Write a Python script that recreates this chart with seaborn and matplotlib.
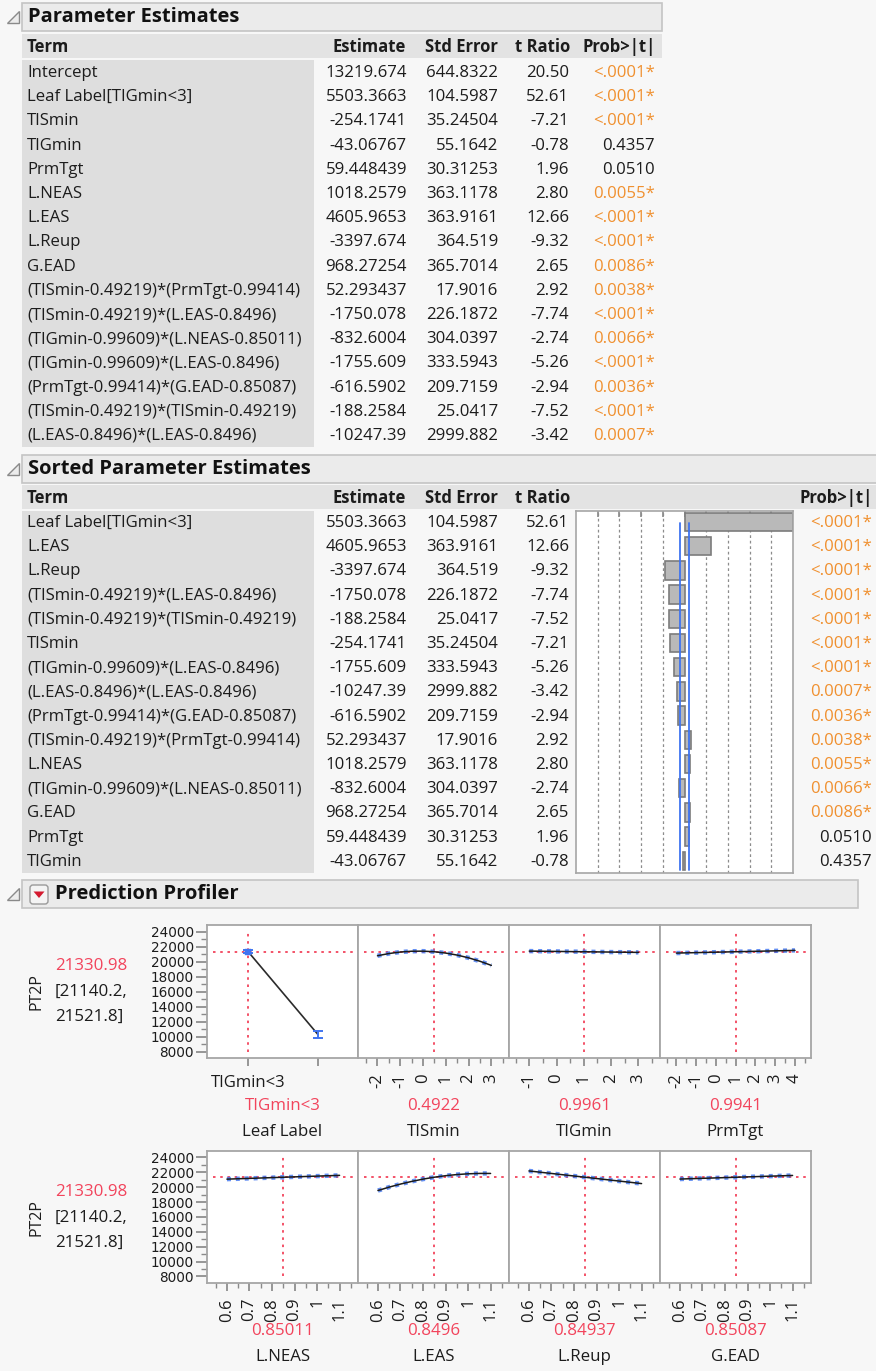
import numpy as np
import pandas as pd
import matplotlib
matplotlib.use("Agg")
import matplotlib.pyplot as plt
from matplotlib.patches import Rectangle, Polygon, FancyBboxPatch
from matplotlib.ticker import MultipleLocator, FuncFormatter
import seaborn as sns

sns.set_theme(style="white")
FONT = ["Open Sans", "DejaVu Sans"]
plt.rcParams["font.family"] = FONT
plt.rcParams["axes.unicode_minus"] = False

# ---------------- Parameter estimates ----------------
terms = [
    "Intercept", "Leaf Label[TIGmin<3]", "TISmin", "TIGmin", "PrmTgt",
    "L.NEAS", "L.EAS", "L.Reup", "G.EAD",
    "(TISmin-0.49219)*(PrmTgt-0.99414)",
    "(TISmin-0.49219)*(L.EAS-0.8496)",
    "(TIGmin-0.99609)*(L.NEAS-0.85011)",
    "(TIGmin-0.99609)*(L.EAS-0.8496)",
    "(PrmTgt-0.99414)*(G.EAD-0.85087)",
    "(TISmin-0.49219)*(TISmin-0.49219)",
    "(L.EAS-0.8496)*(L.EAS-0.8496)",
]
estimates = [13219.674, 5503.3663, -254.1741, -43.06767, 59.448439,
             1018.2579, 4605.9653, -3397.674, 968.27254, 52.293437,
             -1750.078, -832.6004, -1755.609, -616.5902, -188.2584, -10247.39]
std_errors = [644.8322, 104.5987, 35.24504, 55.1642, 30.31253,
              363.1178, 363.9161, 364.519, 365.7014, 17.9016,
              226.1872, 304.0397, 333.5943, 209.7159, 25.0417, 2999.882]
t_ratios = [20.50, 52.61, -7.21, -0.78, 1.96, 2.80, 12.66, -9.32, 2.65,
            2.92, -7.74, -2.74, -5.26, -2.94, -7.52, -3.42]
prob_labels = ["<.0001*", "<.0001*", "<.0001*", "0.4357", "0.0510",
               "0.0055*", "<.0001*", "<.0001*", "0.0086*", "0.0038*",
               "<.0001*", "0.0066*", "<.0001*", "0.0036*", "<.0001*", "0.0007*"]

# ---------------- Prediction profiler ----------------
response_name = "PT2P"
pred_value = 21330.98
pred_lo, pred_hi = 21140.2, 21521.8

leaf_ticks = ["TIGmin<3", ""]
leaf_pred = [21330.98, 10324.2]
leaf_lo = [21140.2, 9870.0]
leaf_hi = [21521.8, 10780.0]

tismin_x = [-2, -1.5, -1, -0.5, 0, 0.5, 1, 1.5, 2, 2.5, 3]
tismin_y = [20795, 21090, 21291, 21398, 21410, 21329, 21153, 20884, 20520, 20062, 19510]
tigmin_x = [-1, -0.5, 0, 0.5, 1, 1.5, 2, 2.5, 3]
tigmin_y = [21417, 21395, 21374, 21352, 21331, 21309, 21288, 21266, 21245]
prmtgt_x = [-2, -1.5, -1, -0.5, 0, 0.5, 1, 1.5, 2, 2.5, 3, 3.5, 4]
prmtgt_y = [21153, 21183, 21212, 21242, 21272, 21302, 21331, 21361, 21391, 21421, 21450, 21480, 21510]

frac_x = [0.6, 0.65, 0.7, 0.75, 0.8, 0.85, 0.9, 0.95, 1.0, 1.05, 1.1]
lneas_y = [21076.3, 21127.2, 21178.1, 21229.0, 21279.9, 21330.9, 21381.8, 21432.7, 21483.6, 21534.5, 21585.4]
leas_y = [19542.9, 20003.3, 20412.6, 20770.5, 21077.3, 21332.8, 21537.1, 21690.1, 21791.9, 21842.5, 21841.8]
lreup_y = [22178.3, 22008.4, 21838.5, 21668.6, 21498.7, 21328.8, 21158.9, 20989.0, 20819.1, 20649.3, 20479.4]
gead_y = [21088.1, 21136.5, 21184.9, 21233.3, 21281.7, 21330.1, 21378.5, 21427.0, 21475.4, 21523.8, 21572.2]

factor_names = ["Leaf Label", "TISmin", "TIGmin", "PrmTgt", "L.NEAS", "L.EAS", "L.Reup", "G.EAD"]
factor_current = [None, 0.4922, 0.9961, 0.9941, 0.85011, 0.8496, 0.84937, 0.85087]
factor_current_labels = ["TIGmin<3", "0.4922", "0.9961", "0.9941", "0.85011", "0.8496", "0.84937", "0.85087"]

# ---------------- styling ----------------
W, H = 876, 1371
PAGE = "#f7f7f7"
BAR_BG = "#ebebeb"
BAR_EDGE = "#c4c4c4"
HEAD_BG = "#e3e3e3"
TERM_BG = "#dedede"
INK = "#1c1c1c"
ORANGE = "#f0902f"
RED = "#f2445c"
BLUE = "#3f74f0"
SPINE = "#a6a6a6"
CELL = 12.1

fig = plt.figure(figsize=(W / 100, H / 100), dpi=100, facecolor=PAGE)
canvas = fig.add_axes([0, 0, 1, 1])
canvas.set_xlim(0, W)
canvas.set_ylim(H, 0)
canvas.axis("off")


def px_axes(x0, y0, x1, y1):
    return fig.add_axes([x0 / W, 1 - y1 / H, (x1 - x0) / W, (y1 - y0) / H])


def box(x0, y0, x1, y1, fc, ec="none", lw=0.0):
    canvas.add_patch(Rectangle((x0, y0), x1 - x0, y1 - y0, facecolor=fc,
                               edgecolor=ec, lw=lw))


def txt(x, y, s, ha="left", size=12, color=INK, weight="normal", **kw):
    canvas.text(x, y, s, ha=ha, va="center", fontsize=size, color=color,
                fontweight=weight, **kw)


def outline_triangle(yc):
    canvas.add_patch(Polygon([(7, yc + 6), (19, yc + 6), (19, yc - 6)], closed=True,
                             facecolor="#ececec", edgecolor="#8a8a8a", lw=1))


def section_title(y0, y1, x1, title):
    box(22, y0, x1, y1, BAR_BG, BAR_EDGE, 1.2)
    outline_triangle((y0 + y1) / 2)
    txt(28, (y0 + y1) / 2, title, size=14.5, weight="bold", color="#111111")


def column_headers(y, prob_right):
    txt(27, y, "Term", size=12, weight="bold")
    txt(406, y, "Estimate", ha="right", size=12, weight="bold")
    txt(498, y, "Std Error", ha="right", size=12, weight="bold")
    txt(570, y, "t Ratio", ha="right", size=12, weight="bold")
    txt(prob_right, y, "Prob>|t|", ha="right", size=12, weight="bold")


def table_rows(df, y_first, prob_right):
    for i, r in df.iterrows():
        y = y_first + ROW * i
        txt(27, y, r.term, size=CELL)
        txt(407, y, fmt_est(r.est), ha="right", size=CELL)
        txt(498, y, fmt_se(r.se), ha="right", size=CELL)
        txt(569, y, fmt_t(r.t), ha="right", size=CELL)
        txt(prob_right, y, r.prob, ha="right", size=CELL,
            color=ORANGE if r.prob.endswith("*") else INK)


fmt_est = lambda v: f"{v:.8g}"
fmt_se = lambda v: f"{v:.7g}"
fmt_t = lambda v: f"{v:.2f}"

table = pd.DataFrame({"term": terms, "est": estimates, "se": std_errors,
                      "t": t_ratios, "prob": prob_labels})
ROW = 24.2

# ---- Parameter Estimates ----
section_title(3, 31, 662, "Parameter Estimates")
box(22, 34, 662, 58, HEAD_BG)
box(22, 60, 314, 447, TERM_BG)
column_headers(47, 656)
table_rows(table, 73, 655)

# ---- Sorted Parameter Estimates ----
sorted_tbl = table.iloc[1:].copy()
sorted_tbl = sorted_tbl.iloc[np.argsort(-np.abs(sorted_tbl["t"].values), kind="stable")]
sorted_tbl = sorted_tbl.reset_index(drop=True)

section_title(455, 483, 880, "Sorted Parameter Estimates")
box(22, 485, 876, 509, HEAD_BG)
box(22, 511, 314, 873, TERM_BG)
column_headers(498, 873)
table_rows(sorted_tbl, 523, 872)

axb = px_axes(576, 511, 793, 873)
axb.set_facecolor("white")
tmax = sorted_tbl["t"].abs().max()
for k in [-4, -3, -2, -1, 1, 2, 3, 4]:
    axb.axvline(k * tmax / 5, color="#8c8c8c", lw=0.9, ls=(0, (2.2, 2.2)), zorder=0)
sns.barplot(data=sorted_tbl, x="t", y="term", orient="h", order=list(sorted_tbl["term"]),
            color="#b9b9b9", saturation=1, edgecolor="#7c7c7c", linewidth=1.2,
            width=0.76, ax=axb, zorder=2)
for tcrit in (-1.96, 1.96):
    axb.axvline(tcrit, ymin=0.008, ymax=0.968, color=BLUE, lw=1.3, zorder=3)
axb.set_xlim(-tmax, tmax)
axb.set_ylim(len(sorted_tbl) - 0.5 + 0.004, -0.4545)
axb.set_xlabel("")
axb.set_ylabel("")
axb.set_yticks([])
axb.xaxis.tick_top()
axb.set_xticks([k * tmax / 5 for k in range(-4, 5)])
axb.tick_params(axis="x", direction="in", length=4, color="#8c8c8c", labeltop=False,
                top=True, bottom=False)
for s in axb.spines.values():
    s.set_color(SPINE)
    s.set_linewidth(1.2)

# ---- Prediction Profiler ----
box(22, 880, 858, 908, BAR_BG, BAR_EDGE, 1.2)
outline_triangle(894)
canvas.add_patch(FancyBboxPatch((30, 885), 18, 19, boxstyle="round,pad=0,rounding_size=3",
                                facecolor="#f4f4f4", edgecolor="#9a9a9a", lw=1))
canvas.add_patch(Polygon([(33.5, 891.5), (44.5, 891.5), (39, 898)], closed=True,
                         facecolor="#d41a30", edgecolor="none"))
txt(55, 894, "Prediction Profiler", size=14.5, weight="bold", color="#111111")

panel_x = [(207, 358), (358, 509), (509, 660), (660, 811)]
rows_y = [(925, 1058), (1150.7, 1282.7)]
YLIM = (7150, 24900)

curves = [None, (tismin_x, tismin_y), (tigmin_x, tigmin_y), (prmtgt_x, prmtgt_y),
          (frac_x, lneas_y), (frac_x, leas_y), (frac_x, lreup_y), (frac_x, gead_y)]
xlims = [(-0.593, 1.58), (-2.855, 3.776), (-1.742, 3.79), (-2.83, 4.81)] + [(0.5115, 1.1818)] * 4
majors = [None, 1, 1, 1, 0.1, 0.1, 0.1, 0.1]
label_fmt = FuncFormatter(lambda v, _: f"{round(v, 3):g}")


def crosshair(ax, xcur):
    ax.axhline(pred_value, xmin=0.04, xmax=0.97, color=RED, lw=1.3, ls=(0, (1.4, 2.6)), zorder=1)
    ax.vlines(xcur, 8000, 24000, color=RED, lw=1.3, ls=(0, (1.4, 2.6)), zorder=1)


for idx in range(8):
    r, c = divmod(idx, 4)
    x0, x1 = panel_x[c]
    y0, y1 = rows_y[r]
    ax = px_axes(x0, y0, x1, y1)
    ax.set_facecolor("white")
    ax.set_xlim(*xlims[idx])
    ax.set_ylim(*YLIM)
    if idx == 0:
        crosshair(ax, 0)
        sns.lineplot(x=[0, 1], y=leaf_pred, ax=ax, color="#2b2b2b", lw=1.2, zorder=3)
        ax.errorbar([0, 1], leaf_pred,
                    yerr=[np.subtract(leaf_pred, leaf_lo), np.subtract(leaf_hi, leaf_pred)],
                    fmt="none", ecolor=BLUE, elinewidth=1.4, capsize=3.5, capthick=1.4, zorder=4)
        sns.scatterplot(x=[0], y=[leaf_pred[0]], ax=ax, marker="s", s=14, color=BLUE,
                        edgecolor=BLUE, zorder=5)
        ax.set_xticks([0, 1], labels=leaf_ticks)
        ax.tick_params(axis="x", labelsize=12, labelrotation=0, pad=6)
    else:
        crosshair(ax, factor_current[idx])
        xs, ys = curves[idx]
        sns.lineplot(x=xs, y=ys, ax=ax, color=BLUE, lw=3.2, alpha=0.8,
                     linestyle=(0, (0.9, 1.1)), zorder=2)
        sns.lineplot(x=xs, y=ys, ax=ax, color="#1a1a1a", lw=1.1, zorder=3)
        ax.xaxis.set_major_locator(MultipleLocator(majors[idx]))
        ax.xaxis.set_minor_locator(MultipleLocator(majors[idx] / 2))
        ax.xaxis.set_major_formatter(label_fmt)
        ax.tick_params(axis="x", labelsize=12, labelrotation=90, pad=5)
    ax.tick_params(axis="x", which="both", bottom=True, direction="out", color="#8a8a8a",
                   labelcolor=INK)
    ax.tick_params(axis="x", which="major", length=6)
    ax.tick_params(axis="x", which="minor", length=3.5)
    ax.set_xlabel("")
    ax.set_ylabel("")
    if c == 0:
        ax.yaxis.set_major_locator(MultipleLocator(2000))
        ax.yaxis.set_minor_locator(MultipleLocator(1000))
        ax.yaxis.set_major_formatter(FuncFormatter(lambda v, _: f"{v:.0f}"))
        ax.tick_params(axis="y", which="both", left=True, direction="out", color="#8a8a8a",
                       labelsize=9.8, pad=1.5, labelcolor=INK)
        ax.tick_params(axis="y", which="major", length=8)
        ax.tick_params(axis="y", which="minor", length=4)
        for lbl in ax.get_yticklabels():
            lbl.set_fontfamily(["DejaVu Sans"])
    else:
        ax.set_yticks([])
    for s in ax.spines.values():
        s.set_color(SPINE)
        s.set_linewidth(1.3)

    xc = (x0 + x1) / 2
    val_y, name_y = (1106, 1132) if r == 0 else (1331, 1357)
    txt(xc, val_y, factor_current_labels[idx], ha="center", size=12.2, color=RED)
    txt(xc, name_y, factor_names[idx], ha="center", size=12.2)

# response labels on the left of each profiler row
for (y0, y1), mid in zip(rows_y, (991.5, 1217.5)):
    txt(37, mid, response_name, ha="center", size=11.5, rotation=90)
    txt(55, mid - 25, f"{pred_value:.2f}", size=12.2, color=RED)
    txt(55, mid, f"[{pred_lo:.1f},", size=12.2)
    txt(55, mid + 25, f"{pred_hi:.1f}]", size=12.2)

fig.savefig("out.png", dpi=100, facecolor=PAGE)
